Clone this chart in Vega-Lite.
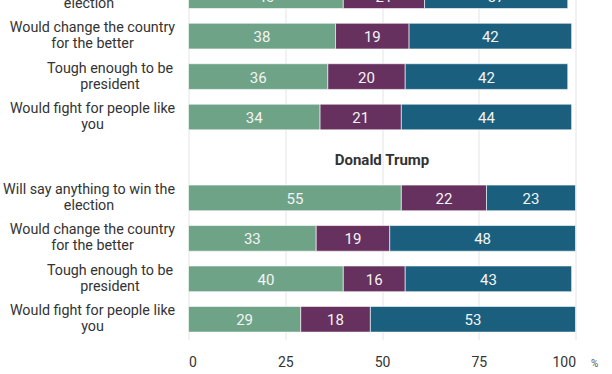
{
  "$schema": "https://vega.github.io/schema/vega-lite/v6.json",
  "width": 387,
  "height": 404.5,
  "autosize": {"type": "none"},
  "padding": {"left": 188.5, "top": -65, "right": 36.5, "bottom": 34.5},
  "background": "white",
  "config": {"font": "Roboto", "view": {"stroke": null}},
  "data": {
    "values": [
      {"row": "Kamala Harris", "header": "Kamala Harris"},
      {"row": "Harris|Will say anything to win the|election", "category": "Describes well", "value": 40},
      {"row": "Harris|Will say anything to win the|election", "category": "Neither", "value": 21},
      {"row": "Harris|Will say anything to win the|election", "category": "Not a good description", "value": 37},
      {"row": "Harris|Would change the country|for the better", "category": "Describes well", "value": 38},
      {"row": "Harris|Would change the country|for the better", "category": "Neither", "value": 19},
      {"row": "Harris|Would change the country|for the better", "category": "Not a good description", "value": 42},
      {"row": "Harris|Tough enough to be|president", "category": "Describes well", "value": 36},
      {"row": "Harris|Tough enough to be|president", "category": "Neither", "value": 20},
      {"row": "Harris|Tough enough to be|president", "category": "Not a good description", "value": 42},
      {"row": "Harris|Would fight for people like|you", "category": "Describes well", "value": 34},
      {"row": "Harris|Would fight for people like|you", "category": "Neither", "value": 21},
      {"row": "Harris|Would fight for people like|you", "category": "Not a good description", "value": 44},
      {"row": "Donald Trump", "header": "Donald Trump"},
      {"row": "Trump|Will say anything to win the|election", "category": "Describes well", "value": 55},
      {"row": "Trump|Will say anything to win the|election", "category": "Neither", "value": 22},
      {"row": "Trump|Will say anything to win the|election", "category": "Not a good description", "value": 23},
      {"row": "Trump|Would change the country|for the better", "category": "Describes well", "value": 33},
      {"row": "Trump|Would change the country|for the better", "category": "Neither", "value": 19},
      {"row": "Trump|Would change the country|for the better", "category": "Not a good description", "value": 48},
      {"row": "Trump|Tough enough to be|president", "category": "Describes well", "value": 40},
      {"row": "Trump|Tough enough to be|president", "category": "Neither", "value": 16},
      {"row": "Trump|Tough enough to be|president", "category": "Not a good description", "value": 43},
      {"row": "Trump|Would fight for people like|you", "category": "Describes well", "value": 29},
      {"row": "Trump|Would fight for people like|you", "category": "Neither", "value": 18},
      {"row": "Trump|Would fight for people like|you", "category": "Not a good description", "value": 53}
    ]
  },
  "encoding": {
    "y": {
      "field": "row",
      "type": "nominal",
      "sort": null,
      "scale": {
        "domain": [
          "Kamala Harris",
          "Harris|Will say anything to win the|election",
          "Harris|Would change the country|for the better",
          "Harris|Tough enough to be|president",
          "Harris|Would fight for people like|you",
          "Donald Trump",
          "Trump|Will say anything to win the|election",
          "Trump|Would change the country|for the better",
          "Trump|Tough enough to be|president",
          "Trump|Would fight for people like|you"
        ],
        "paddingInner": 0.365,
        "paddingOuter": 0.1825
      },
      "axis": {
        "title": null,
        "domain": false,
        "ticks": false,
        "tickSize": 0,
        "grid": false,
        "labelAlign": "center",
        "labelBaseline": "middle",
        "labelFontSize": 14.3,
        "labelColor": "#333333",
        "labelLineHeight": 16,
        "labelOffset": -8,
        "labelLimit": 400,
        "labelPadding": {
          "condition": [
            {"test": "indexof(datum.value, 'Tough') >= 0", "value": 79},
            {"test": "indexof(datum.value, 'Will say') >= 0", "value": 100}
          ],
          "value": 96.5
        },
        "labelExpr": "indexof(datum.value, '|') < 0 ? '' : slice(split(datum.value, '|'), 1)"
      }
    }
  },
  "layer": [
    {
      "transform": [{"filter": "datum.category != null"}],
      "mark": {"type": "bar", "stroke": "#ffffff", "strokeWidth": 1, "strokeOpacity": 0.6},
      "encoding": {
        "x": {
          "field": "value",
          "type": "quantitative",
          "stack": "zero",
          "scale": {"domain": [0, 100], "nice": false},
          "axis": {
            "title": "%",
            "values": [0, 25, 50, 75, 100],
            "domain": false,
            "ticks": false,
            "tickSize": 0,
            "grid": true,
            "gridColor": "#e4e4e4",
            "labelFontSize": 14,
            "labelColor": "#333333",
            "labelPadding": 16,
            "titleFontSize": 10,
            "titleFontWeight": "normal",
            "titleColor": "#555555",
            "titleAlign": "left",
            "titleAnchor": "start",
            "titleX": 402,
            "titleY": 27,
            "titleBaseline": "alphabetic"
          }
        },
        "color": {
          "field": "category",
          "type": "nominal",
          "scale": {"domain": ["Describes well", "Neither", "Not a good description"], "range": ["#6ea387", "#66305f", "#1a5f7e"]},
          "legend": null
        }
      }
    },
    {
      "transform": [{"filter": "datum.category != null"}],
      "mark": {"type": "text", "fontSize": 15, "baseline": "middle", "dy": 1},
      "encoding": {
        "x": {"field": "value", "type": "quantitative", "stack": "zero", "bandPosition": 0.5},
        "text": {"field": "value", "type": "quantitative"},
        "color": {
          "field": "category",
          "type": "nominal",
          "scale": {"domain": ["Describes well", "Neither", "Not a good description"], "range": ["#f4f4f4", "#f4f4f4", "#f4f4f4"]},
          "legend": null
        }
      }
    },
    {
      "transform": [{"filter": "datum.header != null"}],
      "mark": {"type": "text", "fontSize": 15, "fontWeight": "bold", "color": "#333333", "baseline": "middle", "dy": 3},
      "encoding": {
        "x": {"datum": 50},
        "text": {"field": "header"}
      }
    }
  ],
  "resolve": {"scale": {"color": "independent"}}
}
